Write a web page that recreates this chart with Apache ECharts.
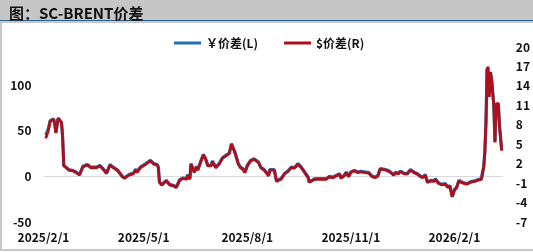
<!DOCTYPE html>
<html>
<head>
<meta charset="utf-8">
<script src="https://cdn.jsdelivr.net/npm/echarts@6/dist/echarts.min.js"></script>
<style>
html,body{margin:0;padding:0;background:#fff;}
#c{width:533px;height:252px;}
</style>
</head>
<body>
<div id="c"></div>
<script>
const titleText = '图：SC-BRENT价差';
const seriesNames = ['￥价差(L)', '$价差(R)'];
const dates = ['2025-02-03','2025-02-05','2025-02-07','2025-02-10','2025-02-11','2025-02-12','2025-02-14','2025-02-15','2025-02-17','2025-02-18','2025-02-19','2025-02-21','2025-02-24','2025-02-27','2025-03-02','2025-03-05','2025-03-08','2025-03-12','2025-03-15','2025-03-20','2025-03-23','2025-03-26','2025-03-29','2025-04-01','2025-04-03','2025-04-08','2025-04-12','2025-04-14','2025-04-18','2025-04-22','2025-04-24','2025-04-25','2025-04-28','2025-05-03','2025-05-07','2025-05-10','2025-05-13','2025-05-14','2025-05-15','2025-05-17','2025-05-21','2025-05-24','2025-05-27','2025-05-30','2025-06-02','2025-06-05','2025-06-08','2025-06-09','2025-06-11','2025-06-12','2025-06-15','2025-06-17','2025-06-18','2025-06-21','2025-06-23','2025-06-25','2025-06-27','2025-06-30','2025-07-01','2025-07-04','2025-07-07','2025-07-10','2025-07-13','2025-07-16','2025-07-18','2025-07-21','2025-07-22','2025-07-24','2025-07-26','2025-07-28','2025-07-30','2025-08-01','2025-08-04','2025-08-07','2025-08-11','2025-08-13','2025-08-16','2025-08-20','2025-08-21','2025-08-25','2025-08-27','2025-08-29','2025-08-31','2025-09-03','2025-09-06','2025-09-09','2025-09-12','2025-09-15','2025-09-18','2025-09-21','2025-09-24','2025-09-25','2025-09-30','2025-10-04','2025-10-10','2025-10-13','2025-10-16','2025-10-19','2025-10-22','2025-10-23','2025-10-26','2025-10-28','2025-10-30','2025-11-01','2025-11-04','2025-11-07','2025-11-10','2025-11-14','2025-11-17','2025-11-20','2025-11-23','2025-11-25','2025-11-27','2025-11-30','2025-12-03','2025-12-06','2025-12-09','2025-12-11','2025-12-13','2025-12-15','2025-12-18','2025-12-21','2025-12-24','2025-12-27','2025-12-30','2026-01-02','2026-01-04','2026-01-06','2026-01-08','2026-01-11','2026-01-14','2026-01-15','2026-01-18','2026-01-21','2026-01-24','2026-01-26','2026-01-28','2026-01-30','2026-02-01','2026-02-03','2026-02-05','2026-02-07','2026-02-10','2026-02-12','2026-02-15','2026-02-19','2026-02-22','2026-02-25','2026-02-26','2026-02-27','2026-02-28','2026-03-01','2026-03-02','2026-03-03','2026-03-04','2026-03-05','2026-03-06','2026-03-08','2026-03-09','2026-03-10','2026-03-12','2026-03-13','2026-03-15'];
const cnySpread = [45,51,61,63,58,48,64,62,59,43,12,10,7,6.5,4.7,2,11,13,10,10,12,8.4,3.6,12.8,11,6.6,0,-1.5,2,3.6,8,4.7,10,14,17.5,14,13,10,-6,-9,-4.4,-8.8,-9.8,-11.7,-3.6,-1.8,-2.6,1.8,-2.6,14,4.7,11,7.3,17.5,24,19.3,12,12,16.8,10,14,20.4,23,25.5,35.7,26.6,28.4,14,10,8.4,4.7,12,17.5,19.3,15.6,10,7.3,1,7.3,7.3,-5,-3.6,-2.6,3,5.8,10,9.5,14,10,4.7,-0.7,-6,-2.6,-2.6,-2.6,0,-1,1,3,-1.5,1,4.7,0,4.7,6.6,4.7,5.5,4.7,4,0,-0.7,1,8.4,8,7,5,1.8,4.7,3,5.8,3.6,3,7.3,4.7,3,0,-0.7,2,-6,-4.4,-5,-2.6,-7.3,-8.8,-8,-11.7,-10,-21.9,-14.6,-11.7,-4.4,-6,-7.3,-8,-6,-5,-3.6,-2.6,4.7,10,26.6,59,118,120,99.5,114,107,77.7,37.5,77.7,79.5,55.8,28.4];
const usdSpread = [5.9,6.9,8.56,8.85,8.14,6.73,8.99,8.70,8.28,6.02,1.65,1.37,0.95,0.88,0.62,0.24,1.51,1.79,1.37,1.37,1.65,1.14,0.47,1.77,1.51,0.89,-0.04,-0.25,0.24,0.47,1.09,0.62,1.37,1.93,2.43,1.93,1.79,1.37,-0.89,-1.31,-0.66,-1.28,-1.42,-1.69,-0.55,-0.29,-0.41,0.21,-0.41,1.93,0.62,1.51,0.99,2.43,3.34,2.68,1.65,1.65,2.33,1.37,1.93,2.84,3.20,3.56,5.00,3.71,3.97,1.93,1.37,1.14,0.62,1.65,2.43,2.68,2.16,1.37,0.99,0.10,0.99,0.99,-0.75,-0.55,-0.41,0.38,0.78,1.37,1.30,1.93,1.37,0.62,-0.14,-0.89,-0.41,-0.41,-0.41,-0.04,-0.18,0.10,0.38,-0.25,0.10,0.62,-0.04,0.62,0.89,0.62,0.74,0.62,0.52,-0.04,-0.14,0.10,1.14,1.09,0.95,0.67,0.21,0.62,0.38,0.78,0.47,0.38,0.99,0.62,0.38,-0.04,-0.14,0.24,-0.89,-0.66,-0.75,-0.41,-1.07,-1.28,-1.17,-1.69,-1.45,-3.13,-2.10,-1.69,-0.66,-0.89,-1.07,-1.17,-0.89,-0.75,-0.55,-0.41,0.62,1.37,3.71,8.28,16.6,16.95,12.3,16.16,15.0,10.9,5.3,11.2,11.3,7.8,4.0];
const xTickDates = ['2025-02-01','2025-05-01','2025-08-01','2025-11-01','2026-02-01'];
const leftTicks = [-50, 0, 50, 100];
const rightTicks = [-7, -4, -1, 2, 5, 8, 11, 14, 17, 20];

function ts(s){ const p = s.split('-').map(Number); return new Date(p[0], p[1]-1, p[2]).getTime(); }
function fmtDate(v){ const d = new Date(v); return d.getFullYear() + '/' + (d.getMonth()+1) + '/' + d.getDate(); }

const font = "'Noto Sans CJK SC', 'Noto Sans', sans-serif";
const chart = echarts.init(document.getElementById('c'), null, {renderer: 'canvas'});
chart.setOption({
  animation: false,
  backgroundColor: '#fff',
  textStyle: {fontFamily: font},
  graphic: [
    {type: 'rect', left: 0, top: 0, shape: {width: 533, height: 20}, style: {fill: '#c6c6c6'}, z: -10},
    {type: 'rect', left: 0, top: 20, shape: {width: 533, height: 2}, style: {fill: '#2f5f8d'}, z: -10},
    {type: 'rect', shape: {x: 1, y: 22, width: 540, height: 228}, style: {fill: 'none', stroke: '#c8c8c8', lineWidth: 2}, z: -10}
  ],
  title: {
    text: titleText, left: 4, top: 1,
    textStyle: {fontFamily: font, fontSize: 15, fontWeight: 'bold', color: '#111'}
  },
  legend: {
    top: 37, left: 174, padding: 0, itemWidth: 27, itemHeight: 3, itemGap: 26,
    icon: 'rect',
    textStyle: {fontFamily: font, fontSize: 12, fontWeight: 'bold', color: '#111'},
    data: seriesNames
  },
  grid: {left: 43.5, right: 29.5, top: 47, bottom: 30},
  xAxis: {
    type: 'value',
    min: ts('2025-02-01'), max: ts('2026-03-16'),
    axisLine: {show: false}, axisTick: {show: false}, splitLine: {show: false},
    axisLabel: {
      customValues: xTickDates.map(ts),
      formatter: fmtDate, hideOverlap: false, margin: 9,
      fontFamily: font, fontSize: 12, fontWeight: 'bold', color: '#111'
    }
  },
  yAxis: [
    {
      type: 'value', min: -50, max: 141.6, interval: 50,
      axisLine: {show: false}, axisTick: {show: false},
      splitLine: {show: true, lineStyle: {color: ['rgba(0,0,0,0)', '#d9d9d9', 'rgba(0,0,0,0)', 'rgba(0,0,0,0)', 'rgba(0,0,0,0)'], width: 1}},
      axisLabel: {customValues: leftTicks, margin: 12, fontFamily: font, fontSize: 12, fontWeight: 'bold', color: '#111'}
    },
    {
      type: 'value', min: -7, max: 20, interval: 3, position: 'right',
      axisLine: {show: false}, axisTick: {show: false}, splitLine: {show: false},
      axisLabel: {customValues: rightTicks, margin: 13, fontFamily: font, fontSize: 12, fontWeight: 'bold', color: '#111'}
    }
  ],
  series: [
    {
      name: seriesNames[0], type: 'line', yAxisIndex: 0, showSymbol: false, symbol: 'none',
      color: '#1f6eb4', lineStyle: {width: 3.2, color: '#1f6eb4'}, z: 3,
      data: dates.map((d, i) => [ts(d), cnySpread[i]])
    },
    {
      name: seriesNames[1], type: 'line', yAxisIndex: 1, showSymbol: false, symbol: 'none',
      color: '#ac101c', lineStyle: {width: 2.8, color: '#ac101c'}, z: 4,
      data: dates.map((d, i) => [ts(d), usdSpread[i]])
    }
  ]
});
</script>
</body>
</html>
